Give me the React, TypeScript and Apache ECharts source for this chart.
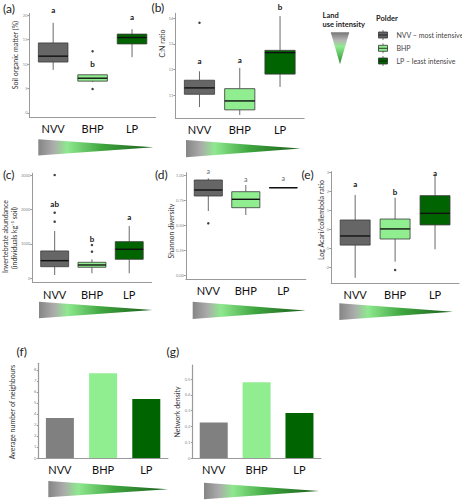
import React, { useEffect, useRef } from "react";
import * as echarts from "echarts";

// ---------- data ----------
const polders = ["NVV", "BHP", "LP"];
const boxFills = ["#666666", "#90EE90", "#006400"];
const barFills = ["#808080", "#90EE90", "#006400"];

// box stats: [min, q1, median, q3, max]
const somBox = [
  [8.8, 10.4, 11.6, 14.3, 18.4],
  [6.3, 6.5, 7.1, 7.8, 7.9],
  [11.4, 14.1, 15.4, 16.1, 17.1],
];
const somOutliers: [string, number][] = [["BHP", 12.6], ["BHP", 4.9]];
const somLetters = ["a", "b", "a"];
const somLetterY = [20.95, 10.1, 19.65];
const somTicks = [0, 5, 10, 15, 20];

const cnBox = [
  [10.53, 11.03, 11.28, 11.58, 11.93],
  [10.22, 10.42, 10.77, 11.25, 12.06],
  [11.32, 11.82, 12.66, 12.75, 14.09],
];
const cnOutliers: [string, number][] = [["NVV", 13.83]];
const cnLetters = ["a", "a", "b"];
const cnLetterY = [12.33, 12.37, 14.45];
const cnTicks = [11, 12, 13, 14];

const abBox = [
  [96, 337, 512, 794, 1375],
  [145, 320, 387, 465, 552],
  [145, 552, 843, 1064, 1520],
];
const abOutliers: [string, number][] = [
  ["NVV", 3000], ["NVV", 1907], ["NVV", 1645], ["BHP", 968], ["BHP", 774],
];
const abLetters = ["ab", "b", "a"];
const abLetterY = [2149, 1133, 1789];
const abTicks = [0, 1000, 2000, 3000];

const shBox = [
  [0.64, 0.79, 0.85, 0.95, 0.967],
  [0.6, 0.673, 0.757, 0.833, 0.9],
  [0.873, 0.873, 0.873, 0.873, 0.873],
];
const shOutliers: [string, number][] = [["NVV", 0.517]];
const shLetters = ["a", "a", "a"];
const shLetterY = [1.043, 0.957, 0.967];
const shTicks = [0, 0.25, 0.5, 0.75, 1];

const lrBox = [
  [-2.53, -0.81, -0.33, 0.51, 1.83],
  [-1.68, -0.49, 0.04, 0.56, 1.68],
  [-1.03, 0.25, 0.86, 1.79, 2.88],
];
const lrOutliers: [string, number][] = [["BHP", -2.12]];
const lrLetters = ["a", "b", "a"];
const lrLetterY = [2.39, 2.0, 3.0];
const lrTicks = [-2, -1, 0, 1, 2, 3];

const neighbours = [3.64, 7.7, 5.36];
const neighTicks = [0, 1, 2, 3, 4, 5, 6, 7, 8];
const density = [0.225, 0.479, 0.285];
const densTicks = [0, 0.1, 0.2, 0.3, 0.4, 0.5];

// ---------- layout ----------
const FONT = "Lato, 'Open Sans', sans-serif";
const AXIS_COLOR = "#9a9a9a";

type BoxPanel = {
  grid: { left: number; top: number; width: number; height: number };
  min: number; max: number;
  box: number[][]; out: [string, number][];
  letters: string[]; letterY: number[];
  ticks: number[]; fmt: (v: number) => string; bold: boolean;
};

const boxPanels: BoxPanel[] = [
  { grid: { left: 29.5, top: 13.3, width: 126.2, height: 104 }, min: -0.88, max: 20.35,
    box: somBox, out: somOutliers, letters: somLetters, letterY: somLetterY, ticks: somTicks,
    fmt: (v) => String(v), bold: true },
  { grid: { left: 175.3, top: 13.3, width: 128.9, height: 105 }, min: 10.09, max: 14.2,
    box: cnBox, out: cnOutliers, letters: cnLetters, letterY: cnLetterY, ticks: cnTicks,
    fmt: (v) => String(v), bold: true },
  { grid: { left: 32.3, top: 173.3, width: 119.3, height: 109.4 }, min: -128, max: 3050,
    box: abBox, out: abOutliers, letters: abLetters, letterY: abLetterY, ticks: abTicks,
    fmt: (v) => String(v), bold: true },
  { grid: { left: 185.8, top: 172.7, width: 120, height: 106.3 }, min: -0.04, max: 1.023,
    box: shBox, out: shOutliers, letters: shLetters, letterY: shLetterY, ticks: shTicks,
    fmt: (v) => v.toFixed(2), bold: false },
  { grid: { left: 331.2, top: 171.7, width: 127.8, height: 111.6 }, min: -2.82, max: 3.05,
    box: lrBox, out: lrOutliers, letters: lrLetters, letterY: lrLetterY, ticks: lrTicks,
    fmt: (v) => String(v), bold: true },
];

const barPanels = [
  { grid: { left: 38.3, top: 363.3, width: 129.6, height: 94.7 }, min: 0, max: 8.6,
    values: neighbours, ticks: neighTicks, fmt: (v: number) => String(v) },
  { grid: { left: 192.3, top: 365, width: 128.6, height: 93 }, min: 0, max: 0.589,
    values: density, ticks: densTicks, fmt: (v: number) => String(Math.round(v * 10) / 10) },
];

function renderBox(params: any, api: any) {
  const x = api.value(0);
  const v = [1, 2, 3, 4, 5].map((i) => api.value(i));
  const pMin = api.coord([x, v[0]]);
  const pQ1 = api.coord([x, v[1]]);
  const pMed = api.coord([x, v[2]]);
  const pQ3 = api.coord([x, v[3]]);
  const pMax = api.coord([x, v[4]]);
  const w = api.size([0.75, 0])[0];
  const fill = boxFills[params.dataIndex];
  return {
    type: "group",
    children: [
      { type: "line", shape: { x1: pMax[0], y1: pMax[1], x2: pQ3[0], y2: pQ3[1] },
        style: { stroke: "#6a6a6a", lineWidth: 1 } },
      { type: "line", shape: { x1: pQ1[0], y1: pQ1[1], x2: pMin[0], y2: pMin[1] },
        style: { stroke: "#6a6a6a", lineWidth: 1 } },
      { type: "rect", shape: { x: pQ1[0] - w / 2, y: pQ3[1], width: w, height: Math.max(pQ1[1] - pQ3[1], 0) },
        style: { fill, stroke: "#3a3a3a", lineWidth: 0.8 } },
      { type: "line", shape: { x1: pMed[0] - w / 2, y1: pMed[1], x2: pMed[0] + w / 2, y2: pMed[1] },
        style: { stroke: "#111", lineWidth: 1.4 } },
    ],
  };
}

function makeLetterRenderer(letters: string[], bold: boolean) {
  return (params: any, api: any) => {
    const p = api.coord([api.value(0), api.value(1)]);
    return {
      type: "text", x: p[0], y: p[1],
      style: {
        text: letters[params.dataIndex], fontSize: bold ? 8 : 7, fontWeight: bold ? "bold" : "normal",
        fill: bold ? "#111" : "#666", fontFamily: FONT, align: "center", verticalAlign: "middle",
      },
    };
  };
}

function hGradient() {
  return new echarts.graphic.LinearGradient(0, 0, 1, 0, [
    { offset: 0, color: "#858585" },
    { offset: 0.13, color: "#ababab" },
    { offset: 0.25, color: "#8fe88f" },
    { offset: 0.55, color: "#3fa63f" },
    { offset: 1, color: "#1a5c1a" },
  ]);
}

const wedges = [
  [[38.3, 139.3], [38.3, 155.5], [153.5, 147.3]],
  [[186, 140], [186, 157.3], [300.5, 148.6]],
  [[39, 301.7], [39, 318.3], [152.5, 310]],
  [[192.7, 301.7], [192.7, 319], [305.5, 310.4]],
  [[339.3, 303.3], [339.3, 320], [453, 311.7]],
  [[48.3, 481], [48.3, 497.3], [168, 489.2]],
  [[204, 482.7], [204, 499.3], [319, 491]],
];

function vText(text: string, x: number, y: number, size = 7) {
  return {
    type: "text", x, y, rotation: Math.PI / 2,
    style: { text, fontSize: size, fontFamily: FONT, fill: "#333", align: "center", verticalAlign: "middle" },
  };
}
function label(text: string, x: number, y: number) {
  return { type: "text", x, y, style: { text, fontSize: 12, fontFamily: FONT, fill: "#222", verticalAlign: "middle" } };
}

function buildOption() {
  const grid: any[] = [];
  const xAxis: any[] = [];
  const yAxis: any[] = [];
  const series: any[] = [];

  boxPanels.forEach((p, gi) => {
    grid.push({ ...p.grid, containLabel: false, outerBoundsMode: "none" });
    xAxis.push({
      type: "value", gridIndex: gi, min: 0.4, max: 3.6,
      axisLine: { show: true, onZero: false, lineStyle: { color: AXIS_COLOR, width: 1 } },
      axisTick: { show: false },
      splitLine: { show: false },
      axisLabel: {
        customValues: [1, 2, 3],
        formatter: (v: number) => polders[Math.round(v) - 1] ?? "",
        fontSize: 11, color: "#111", fontFamily: FONT, margin: 6,
      },
    });
    yAxis.push({
      type: "value", gridIndex: gi, min: p.min, max: p.max,
      axisLine: { show: true, onZero: false, lineStyle: { color: AXIS_COLOR, width: 1 } },
      axisTick: { show: true, length: 2, customValues: p.ticks, lineStyle: { color: AXIS_COLOR } },
      splitLine: { show: false },
      axisLabel: { customValues: p.ticks, formatter: p.fmt, fontSize: 4, color: "#888", margin: 2, fontFamily: FONT },
    });
    series.push({
      type: "custom", xAxisIndex: gi, yAxisIndex: gi,
      renderItem: renderBox,
      encode: { x: 0, y: [1, 2, 3, 4, 5] },
      data: p.box.map((b, i) => [i + 1, ...b]),
      z: 2,
    });
    series.push({
      type: "scatter", xAxisIndex: gi, yAxisIndex: gi,
      symbolSize: 2.5, itemStyle: { color: "#111" },
      data: p.out.map(([c, v]) => [polders.indexOf(c) + 1, v]),
      z: 3,
    });
    series.push({
      type: "custom", xAxisIndex: gi, yAxisIndex: gi, clip: false,
      renderItem: makeLetterRenderer(p.letters, p.bold),
      encode: { x: 0, y: 1 },
      data: p.letters.map((_, i) => [i + 1, p.letterY[i]]),
      z: 4,
    });
  });

  barPanels.forEach((p, k) => {
    const gi = boxPanels.length + k;
    grid.push({ ...p.grid, containLabel: false, outerBoundsMode: "none" });
    xAxis.push({
      type: "category", gridIndex: gi, data: polders,
      axisLine: { show: true, onZero: false, lineStyle: { color: AXIS_COLOR, width: 1.2 } },
      axisTick: { show: false },
      axisLabel: { fontSize: 11, color: "#111", fontFamily: FONT, margin: 6 },
    });
    yAxis.push({
      type: "value", gridIndex: gi, min: p.min, max: p.max,
      axisLine: { show: true, onZero: false, lineStyle: { color: AXIS_COLOR, width: 1.2 } },
      axisTick: { show: true, length: 1.5, customValues: p.ticks, lineStyle: { color: AXIS_COLOR } },
      splitLine: { show: false },
      axisLabel: { customValues: p.ticks, formatter: p.fmt, fontSize: 4, color: "#888", margin: 2, fontFamily: FONT },
    });
    series.push({
      type: "bar", xAxisIndex: gi, yAxisIndex: gi, barWidth: 28,
      data: p.values.map((v, i) => ({ value: v, itemStyle: { color: barFills[i] } })),
    });
  });

  const graphic: any[] = [
    label("(a)", 3, 8), label("(b)", 151.5, 7.5), label("(c)", 3, 174.5),
    label("(d)", 155, 174.5), label("(e)", 301.5, 174.5), label("(f)", 16.5, 351), label("(g)", 166.5, 351.5),
    vText("Soil organic matter (%)", 15, 55),
    vText("C:N ratio", 161.7, 43.5),
    vText("Invertebrate abundance", 4.5, 236.5),
    vText("(individuals kg\u207B\u00B9 soil)", 13.5, 238),
    vText("Shannon diversity", 170.7, 231),
    vText("Log Acari/collembola ratio", 320.7, 220),
    vText("Average number of neighbours", 12, 412),
    vText("Network density", 177.3, 412),
    ...wedges.map((pts) => ({
      type: "polygon", shape: { points: pts }, style: { fill: hGradient() },
    })),
    // legend: land use intensity
    { type: "text", x: 322.5, y: 15, style: { text: "Land", fontSize: 7.5, fontWeight: "bold", fontFamily: FONT, fill: "#222", verticalAlign: "middle" } },
    { type: "text", x: 322.5, y: 24.5, style: { text: "use intensity", fontSize: 7.5, fontWeight: "bold", fontFamily: FONT, fill: "#222", verticalAlign: "middle" } },
    {
      type: "polygon", shape: { points: [[330.7, 32.3], [349.3, 32.3], [340, 64.3]] },
      style: {
        fill: new echarts.graphic.LinearGradient(0, 0, 0, 1, [
          { offset: 0, color: "#777" },
          { offset: 0.25, color: "#b5b5b5" },
          { offset: 0.45, color: "#8fea8f" },
          { offset: 1, color: "#2a8a2a" },
        ]),
      },
    },
    { type: "text", x: 376, y: 18.5, style: { text: "Polder", fontSize: 7.5, fontWeight: "bold", fontFamily: FONT, fill: "#222", verticalAlign: "middle" } },
  ];
  const legendTexts = ["NVV \u2013 most intensive", "BHP", "LP \u2013 least intensive"];
  const legendY = [35, 48.3, 61];
  legendTexts.forEach((t, i) => {
    const y = legendY[i];
    graphic.push({ type: "line", shape: { x1: 383, y1: y - 5, x2: 383, y2: y + 5 }, style: { stroke: "#555", lineWidth: 0.8 } });
    graphic.push({ type: "rect", shape: { x: 378.5, y: y - 3, width: 9, height: 6 }, style: { fill: boxFills[i], stroke: "#333", lineWidth: 0.8 } });
    graphic.push({ type: "line", shape: { x1: 378.5, y1: y, x2: 387.5, y2: y }, style: { stroke: "#111", lineWidth: 0.8 } });
    graphic.push({ type: "text", x: 396.5, y, style: { text: t, fontSize: 7, fontFamily: FONT, fill: "#444", verticalAlign: "middle" } });
  });

  return {
    animation: false,
    backgroundColor: "#ffffff",
    grid, xAxis, yAxis, series, graphic,
  };
}

export default function App() {
  const ref = useRef<HTMLDivElement>(null);
  useEffect(() => {
    document.body.style.margin = "0";
    if (!ref.current) return;
    const chart = echarts.init(ref.current, null, { renderer: "svg" });
    chart.setOption(buildOption() as any);
    return () => chart.dispose();
  }, []);
  return (
    <div
      ref={ref}
      style={{ position: "absolute", left: 0, top: 0, width: 462, height: 500, background: "#fff" }}
    />
  );
}
